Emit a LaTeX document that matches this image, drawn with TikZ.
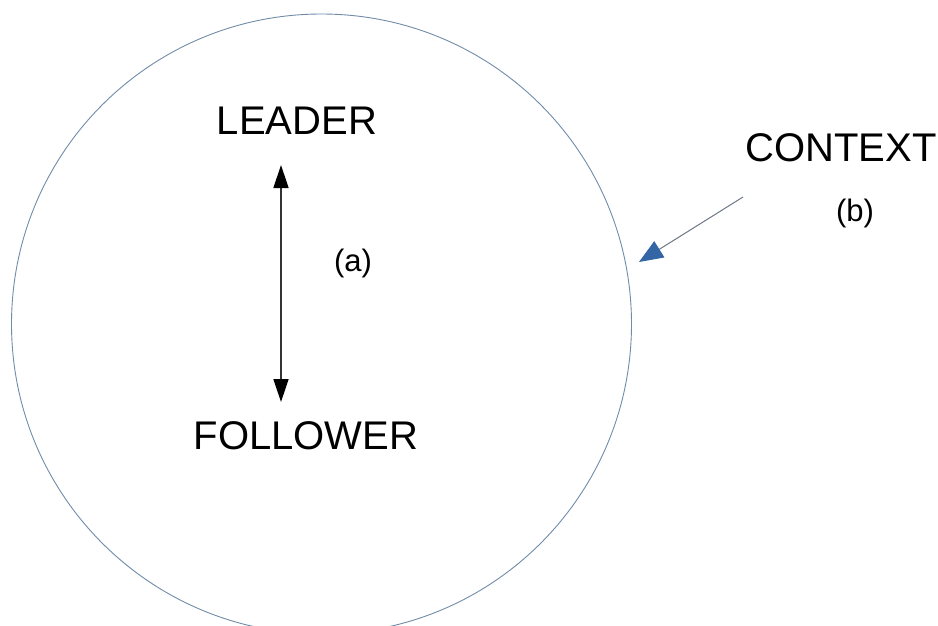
\documentclass[tikz,border=0pt]{standalone}
\usepackage{fontspec}
\setmainfont{Liberation Sans}
\usetikzlibrary{arrows.meta}
\definecolor{ringblue}{RGB}{112,140,168}
\definecolor{tipblue}{RGB}{52,101,164}
\definecolor{shaftgray}{RGB}{110,120,135}

\begin{document}
\begin{tikzpicture}[
        x=1pt, y=-1pt,
        ring/.style={draw=ringblue, line width=0.9pt},
        label text/.style={font=\fontsize{40}{44}\selectfont, inner sep=0pt},
        tag text/.style={font=\fontsize{31}{34}\selectfont, inner sep=0pt},
        relation/.style={line width=1.4pt, draw=black!80,
          {Triangle[length=23pt,width=15pt,color=black]}-{Triangle[length=23pt,width=15pt,color=black]}},
        pointer/.style={line width=1pt, draw=shaftgray,
          -{Triangle[length=24pt,width=19pt,color=tipblue]}}
      ]

      \useasboundingbox (0,0) rectangle (938,625);
      \clip (0,0) rectangle (938,625);

      % the context circle
      \coordinate (centre) at (321.5,324);
      \draw[ring] (centre) circle[radius=310pt];

      % leader and follower
      \node[label text] (leader) at (297,121) {LEADER};
      \node[label text] (follower) at (306,436) {FOLLOWER};
      \node[tag text] (taga) at (353,263) {(a)};

      \coordinate (leadTip) at (281,165);
      \coordinate (followTip) at (281,402);
      \draw[relation] (leadTip) -- (followTip);

      % context label and its arrow
      \node[label text] (context) at (841,148) {CONTEXT};
      \node[tag text] (tagb) at (855,213) {(b)};

      \coordinate (ctxStart) at (743,197);
      \coordinate (ctxTip) at (639,262);
      \draw[pointer] (ctxStart) -- (ctxTip);

    \end{tikzpicture}
\end{document}
